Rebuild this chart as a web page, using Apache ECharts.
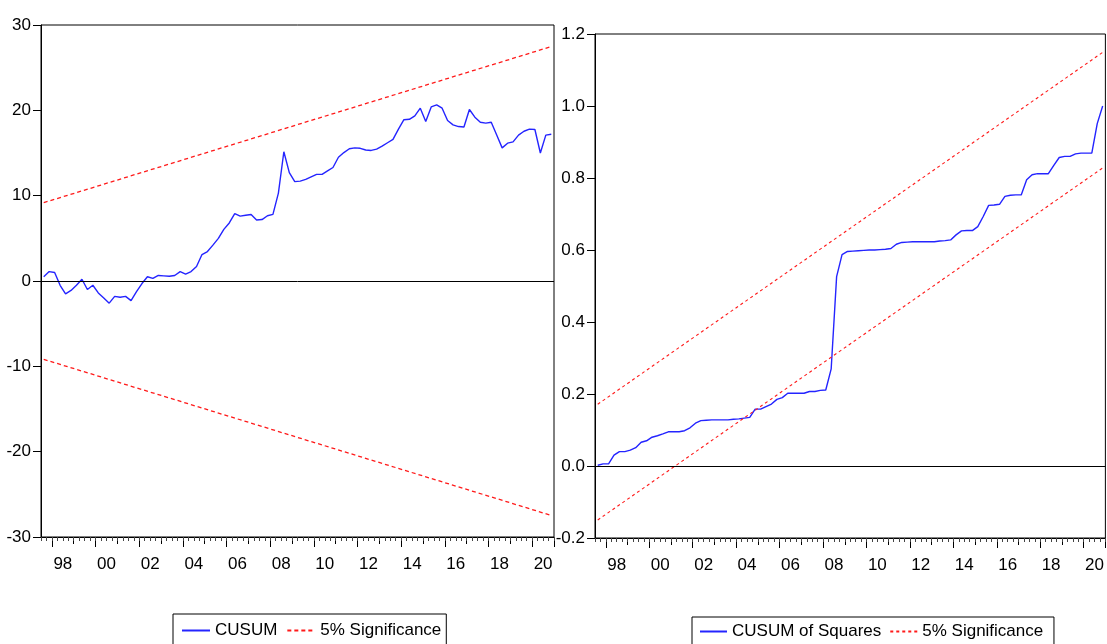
<!DOCTYPE html>
<html>
<head>
<meta charset="utf-8">
<script src="https://cdn.jsdelivr.net/npm/echarts@6/dist/echarts.min.js"></script>
<style>
html,body{margin:0;padding:0;background:#fff;}
#chart{width:1107px;height:644px;}
</style>
</head>
<body>
<div id="chart"></div>
<script>
// Quarterly categories 1997Q3 .. 2020Q4
var startYear = 1997, startQ = 3, endYear = 2020, endQ = 4;
var quarters = [];
(function(){
  var y = startYear, q = startQ;
  while (y < endYear || (y === endYear && q <= endQ)) {
    quarters.push(y + 'Q' + q);
    q++; if (q > 4) { q = 1; y++; }
  }
})();

var cusum = [
  0.5, 1.1, 1.0, -0.5, -1.5, -1.1, -0.5, 0.2, -1.0, -0.5,
  -1.4, -2.0, -2.6, -1.8, -1.9, -1.8, -2.3, -1.25, -0.3, 0.5,
  0.3, 0.65, 0.6, 0.55, 0.65, 1.1, 0.8, 1.1, 1.7, 3.1,
  3.45, 4.2, 5.0, 6.05, 6.8, 7.9, 7.6, 7.7, 7.8, 7.15,
  7.2, 7.65, 7.8, 10.3, 15.15, 12.7, 11.65, 11.7, 11.9, 12.2,
  12.5, 12.5, 12.9, 13.3, 14.5, 15.05, 15.5, 15.6, 15.55, 15.35,
  15.3, 15.45, 15.8, 16.2, 16.6, 17.8, 18.9, 18.95, 19.35, 20.25,
  18.7, 20.4, 20.65, 20.25, 18.8, 18.3, 18.1, 18.05, 20.1, 19.2,
  18.6, 18.5, 18.6, 17.1, 15.6, 16.15, 16.3, 17.1, 17.55, 17.8,
  17.75, 15.0, 17.1, 17.2
];
var cusumUpperEnds = [9.18, 27.47];
var cusumLowerEnds = [-9.18, -27.47];

var cusumSq = [
  0.002, 0.006, 0.006, 0.03, 0.04, 0.04, 0.044, 0.051, 0.066, 0.07,
  0.08, 0.084, 0.089, 0.095, 0.095, 0.095, 0.098, 0.106, 0.119, 0.126,
  0.127, 0.128, 0.128, 0.128, 0.128, 0.13, 0.131, 0.133, 0.135, 0.158,
  0.158, 0.165, 0.172, 0.185, 0.19, 0.202, 0.202, 0.202, 0.202, 0.207,
  0.207, 0.21, 0.211, 0.27, 0.526, 0.587, 0.596, 0.597, 0.598, 0.599,
  0.6, 0.6, 0.601, 0.602, 0.604, 0.616, 0.621, 0.622, 0.623, 0.623,
  0.623, 0.623, 0.623, 0.625, 0.626, 0.628, 0.642, 0.653, 0.654, 0.654,
  0.665, 0.693, 0.724, 0.725, 0.727, 0.749, 0.752, 0.753, 0.753, 0.795,
  0.809, 0.812, 0.812, 0.812, 0.835, 0.857, 0.86, 0.86, 0.867, 0.869,
  0.869, 0.869, 0.951, 1.0
];
var sqUpperEnds = [0.1715, 1.149];
var sqLowerEnds = [-0.150, 0.828];

var cusumTicks = [-30, -20, -10, 0, 10, 20, 30];
var sqTicks = [-0.2, 0.0, 0.2, 0.4, 0.6, 0.8, 1.0, 1.2];

var FONT = "'Liberation Sans', Arial, sans-serif";
var FS = 17;
var BLUE = '#2424ff';
var RED = '#ff1a1a';

function qOf(v){ return parseInt(v.slice(5), 10); }
function yOf(v){ return parseInt(v.slice(0, 4), 10); }

function xAxesFor(gridIndex) {
  var base = {
    type: 'category', gridIndex: gridIndex, data: quarters, boundaryGap: true,
    position: 'bottom'
  };
  return [
    Object.assign({}, base, {
      axisLine: { show: true, onZero: false, lineStyle: { color: '#000', width: 1 } },
      axisTick: { show: true, length: 10, lineStyle: { color: '#000' },
        interval: function (i, v) { return qOf(v) === 1 && yOf(v) % 2 === 0; } },
      axisLabel: { show: true, fontFamily: FONT, fontSize: FS, color: '#000', margin: 19,
        padding: [0, 0, 0, 5.5],
        interval: function (i, v) { return qOf(v) === 2 && yOf(v) % 2 === 0; },
        formatter: function (v) { return v.slice(2, 4); } },
      splitLine: { show: false }
    }),
    Object.assign({}, base, {
      axisLine: { show: false, onZero: false },
      axisTick: { show: true, length: 7, lineStyle: { color: '#000' },
        interval: function (i, v) { return qOf(v) === 1; } },
      axisLabel: { show: false }, splitLine: { show: false }
    }),
    Object.assign({}, base, {
      axisLine: { show: false, onZero: false },
      axisTick: { show: true, length: 4, lineStyle: { color: '#444' }, interval: 0 },
      axisLabel: { show: false }, splitLine: { show: false }
    })
  ];
}

function yAxisFor(gridIndex, ticks, decimals) {
  return {
    type: 'value', gridIndex: gridIndex,
    min: ticks[0], max: ticks[ticks.length - 1], interval: ticks[1] - ticks[0],
    axisLine: { show: true, onZero: false, lineStyle: { color: '#000', width: 1 } },
    axisTick: { show: true, length: 8, lineStyle: { color: '#000' } },
    axisLabel: { fontFamily: FONT, fontSize: FS, color: '#000', margin: 10,
      formatter: function (v) { return decimals ? Number(v).toFixed(decimals) : String(Math.round(v)); } },
    splitLine: { show: false }
  };
}

var zeroLine = {
  silent: true, symbol: ['none', 'none'], label: { show: false },
  lineStyle: { color: '#000', type: 'solid', width: 1 },
  data: [{ yAxis: 0 }]
};

function ends(arr) {
  return [[quarters[0], arr[0]], [quarters[quarters.length - 1], arr[1]]];
}

var xA = xAxesFor(0).concat(xAxesFor(1));

var legendCommon = {
  orient: 'horizontal', itemWidth: 28, itemHeight: 14, itemGap: 9,
  borderColor: '#000', borderWidth: 1, backgroundColor: '#fff',
  itemStyle: { opacity: 0 },
  textStyle: { fontFamily: FONT, fontSize: FS, color: '#000' }
};

var option = {
  animation: false,
  backgroundColor: '#fff',
  grid: [
    { left: 41, top: 25, width: 513, height: 512, show: true, borderColor: '#000', borderWidth: 1, backgroundColor: 'transparent' },
    { left: 595, top: 34, width: 513, height: 504, show: true, borderColor: '#000', borderWidth: 1, backgroundColor: 'transparent' }
  ],
  xAxis: xA,
  yAxis: [yAxisFor(0, cusumTicks, 0), yAxisFor(1, sqTicks, 1)],
  legend: [
    Object.assign({}, legendCommon, { left: 173, top: 614, padding: [8, 5, 30, 8],
      data: ['CUSUM', '5% Significance'] }),
    Object.assign({}, legendCommon, { left: 692, top: 617, padding: [6, 6, 30, 7], itemWidth: 27, itemGap: 8,
      data: ['CUSUM of Squares', '5% Significance '] })
  ],
  series: [
    { name: 'CUSUM', type: 'line', xAxisIndex: 0, yAxisIndex: 0, data: cusum,
      symbol: 'none', lineStyle: { color: BLUE, width: 1.4 }, itemStyle: { color: BLUE },
      markLine: zeroLine, z: 3 },
    { name: '5% Significance', type: 'line', xAxisIndex: 0, yAxisIndex: 0, data: ends(cusumUpperEnds),
      symbol: 'none', lineStyle: { color: RED, width: 1.3, type: [4, 3] }, itemStyle: { color: RED } },
    { name: '5% Significance', type: 'line', xAxisIndex: 0, yAxisIndex: 0, data: ends(cusumLowerEnds),
      symbol: 'none', lineStyle: { color: RED, width: 1.3, type: [4, 3] }, itemStyle: { color: RED } },
    { name: 'CUSUM of Squares', type: 'line', xAxisIndex: 3, yAxisIndex: 1, data: cusumSq,
      symbol: 'none', lineStyle: { color: BLUE, width: 1.4 }, itemStyle: { color: BLUE },
      markLine: zeroLine, z: 3 },
    { name: '5% Significance ', type: 'line', xAxisIndex: 3, yAxisIndex: 1, data: ends(sqUpperEnds),
      symbol: 'none', lineStyle: { color: RED, width: 1.1, type: [3, 3] }, itemStyle: { color: RED } },
    { name: '5% Significance ', type: 'line', xAxisIndex: 3, yAxisIndex: 1, data: ends(sqLowerEnds),
      symbol: 'none', lineStyle: { color: RED, width: 1.1, type: [3, 3] }, itemStyle: { color: RED } }
  ]
};

var chart = echarts.init(document.getElementById('chart'), null, { renderer: 'canvas' });
chart.setOption(option);
</script>
</body>
</html>
